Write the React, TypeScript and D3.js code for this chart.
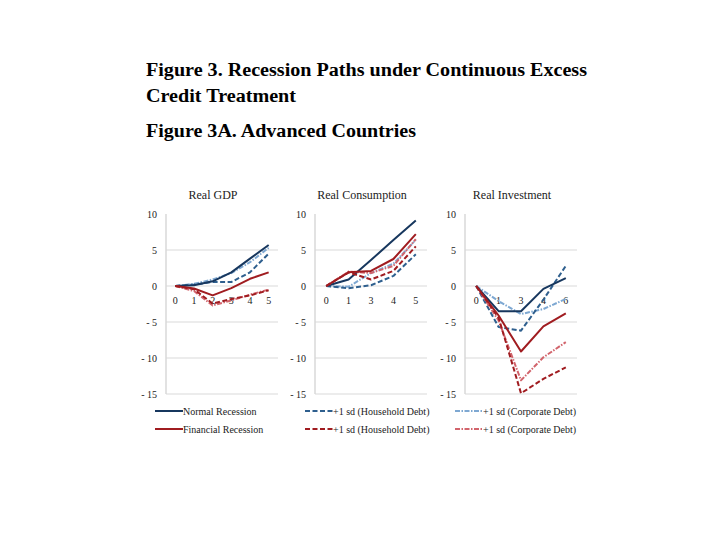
import React from "react";
import * as d3 from "d3";

const gdpCats = ["0", "1", "2", "3", "4", "5"];
const consCats = ["0", "1", "3", "4", "5"];
const invCats = ["0", "1", "3", "4", "6"];

const gdpNormal = [0, 0.1, 0.65, 1.9, 3.8, 5.7];
const gdpNormalHH = [0, 0.2, 0.55, 0.55, 1.9, 4.5];
const gdpNormalCorp = [0, 0.3, 0.9, 1.8, 3.3, 5.3];
const gdpFin = [0, -0.35, -1.3, -0.3, 1.0, 1.9];
const gdpFinHH = [0, -0.45, -2.45, -1.8, -1.3, -0.6];
const gdpFinCorp = [0, -0.7, -2.7, -2.0, -1.2, -0.5];

const consNormal = [0, 0.9, 3.6, 6.4, 9.1];
const consNormalHH = [0, -0.3, 0.1, 1.4, 4.4];
const consNormalCorp = [0, -0.1, 1.8, 3.1, 6.4];
const consFin = [0, 1.9, 2.1, 3.75, 7.2];
const consFinHH = [0, 1.9, 0.9, 2.1, 5.5];
const consFinCorp = [0, 2.0, 1.8, 2.8, 6.5];

const invNormal = [0, -3.5, -3.5, -0.4, 1.1];
const invNormalHH = [0, -5.7, -6.2, -1.9, 2.8];
const invNormalCorp = [0, -2.1, -3.9, -3.2, -1.8];
const invFin = [0, -4.1, -9.1, -5.6, -3.8];
const invFinHH = [0, -4.4, -14.9, -12.9, -11.3];
const invFinCorp = [0, -4.8, -13.1, -9.9, -7.8];

const yTicks = [10, 5, 0, -5, -10, -15];
const yTickLabels = ["10", "5", "0", "- 5", "- 10", "- 15"];

const seriesNames = [
  "Normal Recession",
  "+1 sd (Household Debt)",
  "+1 sd (Corporate Debt)",
  "Financial Recession",
  "+1 sd (Household Debt)",
  "+1 sd (Corporate Debt)",
];
const seriesColors = ["#17375E", "#2E5F8E", "#7EA8D2", "#A01C20", "#A01C20", "#D2646C"];
const seriesDash = ["", "5,2.5", "5,1.5,1.5,1.5", "", "5,2.5", "5,1.5,1.5,1.5"];

const titleLines = [
  "Figure 3. Recession Paths under Continuous Excess",
  "Credit Treatment",
  "Figure 3A. Advanced Countries",
];

const panels = [
  { title: "Real GDP", cats: gdpCats, data: [gdpNormalCorp, gdpNormalHH, gdpNormal, gdpFinCorp, gdpFinHH, gdpFin], order: [2, 1, 0, 5, 4, 3], left: 166 },
  { title: "Real Consumption", cats: consCats, data: [consNormalCorp, consNormalHH, consNormal, consFinCorp, consFinHH, consFin], order: [2, 1, 0, 5, 4, 3], left: 315 },
  { title: "Real Investment", cats: invCats, data: [invNormalCorp, invNormalHH, invNormal, invFinCorp, invFinHH, invFin], order: [2, 1, 0, 5, 4, 3], left: 465 },
];

const FONT = "'Liberation Serif', 'Times New Roman', serif";

export default function App() {
  const y = d3.scaleLinear().domain([-15, 10]).range([394, 214]);
  const plotW = 112;
  return (
    <svg width={720} height={540} style={{ position: "absolute", left: 0, top: 0, background: "#fff" }}>
      <rect x={0} y={0} width={720} height={540} fill="#fff" />
      <text x={146} y={76} fontFamily={FONT} fontWeight="bold" fontSize={18} textLength={441} lengthAdjust="spacingAndGlyphs">{titleLines[0]}</text>
      <text x={146} y={102} fontFamily={FONT} fontWeight="bold" fontSize={18} textLength={150} lengthAdjust="spacingAndGlyphs">{titleLines[1]}</text>
      <text x={146} y={137} fontFamily={FONT} fontWeight="bold" fontSize={18} textLength={270} lengthAdjust="spacingAndGlyphs">{titleLines[2]}</text>
      {panels.map((p, pi) => {
        const x = d3.scaleBand<string>().domain(p.cats).range([p.left, p.left + plotW]);
        const cx = (c: string) => (x(c) as number) + x.bandwidth() / 2;
        const line = d3
          .line<number>()
          .x((_, i) => cx(p.cats[i]))
          .y((v) => y(v));
        return (
          <g key={pi}>
            <text x={p.left + 47} y={199} textAnchor="middle" fontFamily={FONT} fontSize={12} fill="#222">{p.title}</text>
            {yTicks.map((t, ti) => (
              <g key={ti}>
                {t !== 10 && (
                  <line x1={p.left} x2={p.left + plotW} y1={y(t)} y2={y(t)} stroke="#D9D9D9" strokeWidth={1} />
                )}
                <text x={p.left - 9} y={y(t) + 3.5} textAnchor="end" fontFamily={FONT} fontSize={10} fill="#222">{yTickLabels[ti]}</text>
              </g>
            ))}
            <line x1={p.left} x2={p.left} y1={y(10)} y2={y(-15)} stroke="#D9D9D9" strokeWidth={1.5} />
            {p.cats.map((c) => (
              <text key={c} x={cx(c)} y={304} textAnchor="middle" fontFamily={FONT} fontSize={10} fill="#222">{c}</text>
            ))}
            {p.data.map((d, di) => {
              const si = p.order[di];
              return (
                <path
                  key={di}
                  d={line(d) || ""}
                  fill="none"
                  stroke={seriesColors[si]}
                  strokeWidth={2}
                  strokeDasharray={seriesDash[si]}
                  strokeLinejoin="round"
                />
              );
            })}
          </g>
        );
      })}
      {seriesNames.map((name, i) => {
        const col = i % 3;
        const row = Math.floor(i / 3);
        const lx = 155 + col * 150;
        const ly = 411 + row * 18;
        return (
          <g key={i}>
            <line x1={lx} x2={lx + 28} y1={ly} y2={ly} stroke={seriesColors[i]} strokeWidth={2} strokeDasharray={seriesDash[i]} />
            <text x={lx + 28} y={ly + 3.5} fontFamily={FONT} fontSize={10} fill="#222">{name}</text>
          </g>
        );
      })}
    </svg>
  );
}
